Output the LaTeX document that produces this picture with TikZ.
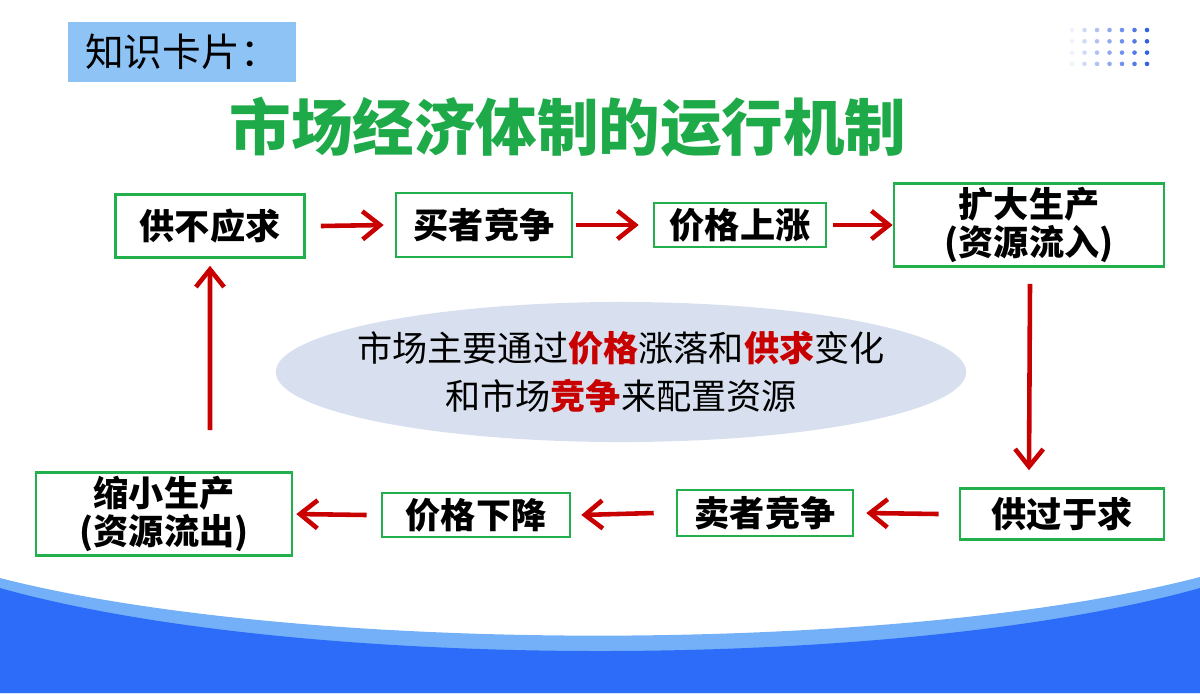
\documentclass[tikz,border=0pt]{standalone}
\usepackage{fontspec}
\setmainfont{Noto Sans CJK SC}
\usetikzlibrary{positioning,shapes.geometric,arrows.meta}
\definecolor{boxgreen}{HTML}{22B04C}
\definecolor{titlegreen}{HTML}{1FAA4A}
\definecolor{arrowred}{HTML}{C80000}
\definecolor{cardblue}{HTML}{8EC3F5}
\definecolor{ovalblue}{HTML}{D8E0EF}
\definecolor{waveblue}{HTML}{2D6CF8}
\definecolor{wavelight}{HTML}{74B0F8}
\definecolor{dotblue}{HTML}{2F5FE0}
\tikzset{stage/.style={draw=boxgreen,line width=0.7pt,fill=white,font=\bfseries\fontsize{10}{12}\selectfont,align=center,inner sep=0pt}}
\tikzset{flow/.style={draw=arrowred,line width=1.3pt,-{Straight Barb[length=5pt,width=8pt]}}}
\begin{document}
\begin{tikzpicture}[x=0.01cm,y=-0.01cm]
        \useasboundingbox (0,0) rectangle (1200,693);
        % bottom wave
        \fill[wavelight] (0,578) .. controls (300,655) and (900,655) .. (1200,577) -- (1200,693) -- (0,693) -- cycle;
        \fill[waveblue] (0,588) .. controls (300,672) and (900,672) .. (1200,588) -- (1200,693) -- (0,693) -- cycle;
        % dots
        \foreach \i in {0,...,6}
            \foreach \j in {0,...,3}
                \fill[dotblue!\the\numexpr 8+\i*15\relax] (1072+\i*12.5,30+\j*11.3) circle (2.3);
        \node[fill=cardblue,minimum width=2.28cm,minimum height=0.51cm,font=\fontsize{11}{12}\selectfont] (card) at (182,52) {知识卡片：};
        \node[text=titlegreen,font=\bfseries\fontsize{17.5}{20}\selectfont] (title) at (568,127) {市场经济体制的运行机制};
        % cycle
        \node[stage,minimum width=1.89cm,minimum height=0.63cm] (short) at (210,226) {供不应求};
        \node[stage,minimum width=1.76cm,minimum height=0.64cm] (buy) at (484,225) {买者竞争};
        \node[stage,minimum width=1.72cm,minimum height=0.44cm] (rise) at (740,225) {价格上涨};
        \node[stage,minimum width=2.70cm,minimum height=0.83cm,font=\bfseries\fontsize{10}{11}\selectfont] (grow) at (1029,225) {扩大生产\\(资源流入)};
        \node[stage,minimum width=2.04cm,minimum height=0.51cm] (surplus) at (1062,514) {供过于求};
        \node[stage,minimum width=1.76cm,minimum height=0.46cm] (sell) at (765,513) {卖者竞争};
        \node[stage,minimum width=1.88cm,minimum height=0.44cm] (fall) at (476,515) {价格下降};
        \node[stage,minimum width=2.56cm,minimum height=0.83cm,font=\bfseries\fontsize{10}{11}\selectfont] (shrink) at (164,514) {缩小生产\\(资源流出)};
        \draw[flow] ([xshift=0.15cm]short.east) -- ([xshift=-0.11cm]buy.west);
        \draw[flow] ([xshift=0.03cm]buy.east) -- ([xshift=-0.14cm]rise.west);
        \draw[flow] ([xshift=0.06cm]rise.east) -- (grow.west);
        \draw[flow] ([yshift=-0.16cm,xshift=0.01cm]grow.south) -- ([yshift=0.17cm]surplus.north -| grow.south);
        \draw[flow] ([xshift=-0.2cm]surplus.west) -- ([xshift=0.12cm]sell.east);
        \draw[flow] ([xshift=-0.22cm]sell.west) -- ([xshift=0.1cm]fall.east);
        \draw[flow] ([xshift=-0.14cm]fall.west) -- ([xshift=0.03cm]shrink.east);
        \draw[flow] ([yshift=0.41cm,xshift=0.46cm]shrink.north) -- ([yshift=-0.07cm]short.south);
        % note
        \node[ellipse,fill=ovalblue,minimum width=6.9cm,minimum height=1.4cm] (oval) at (621,372) {};
        \node[align=center,font=\fontsize{10}{13.5}\selectfont] (note) at (oval) {市场主要通过{\color{arrowred}\bfseries 价格}涨落和{\color{arrowred}\bfseries 供求}变化\\和市场{\color{arrowred}\bfseries 竞争}来配置资源};
    \end{tikzpicture}
\end{document}
